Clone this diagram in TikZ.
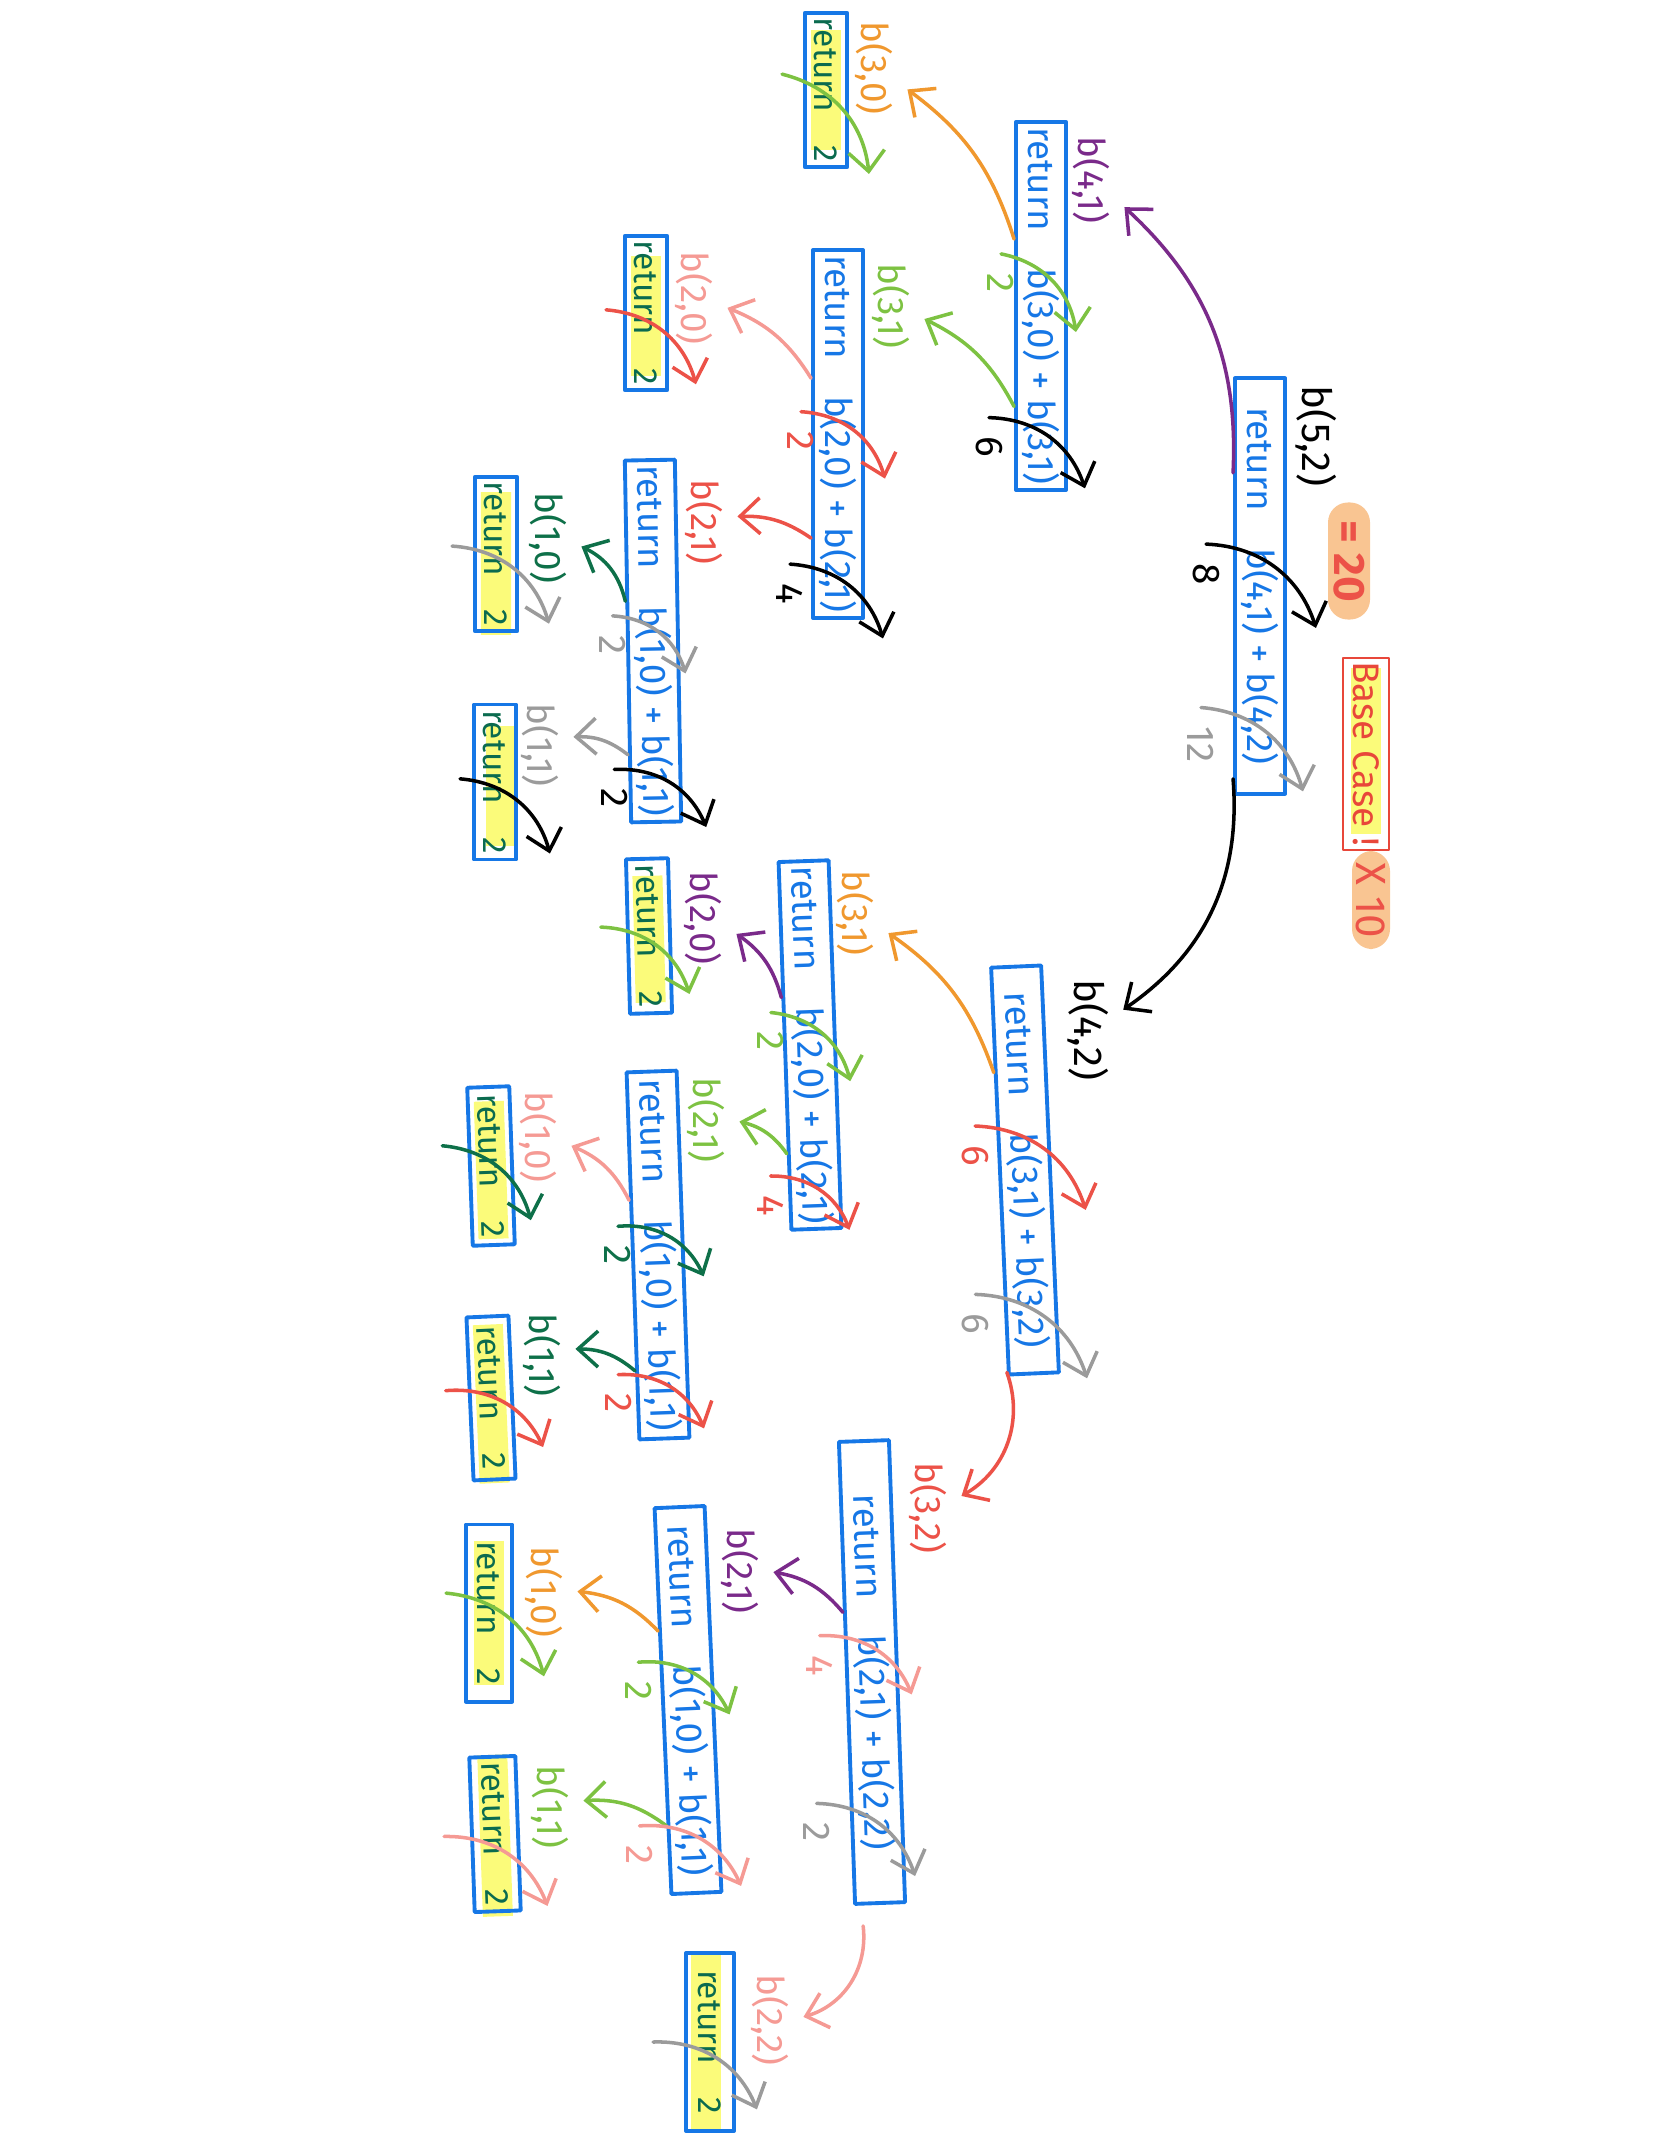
\documentclass[tikz,border=0pt]{standalone}
\usepackage{fontspec}
\setmainfont{Fira Sans}
\usetikzlibrary{arrows.meta, calc, backgrounds}
\definecolor{cblue}{HTML}{1677E6}
\definecolor{cteal}{HTML}{0B6B4F}
\definecolor{corange}{HTML}{F0982E}
\definecolor{cgreen}{HTML}{7DC242}
\definecolor{cdkgreen}{HTML}{0E7049}
\definecolor{cred}{HTML}{EC5248}
\definecolor{cpink}{HTML}{F59A94}
\definecolor{cpurple}{HTML}{7A2A8A}
\definecolor{cgray}{HTML}{9B9B9B}
\definecolor{cyellow}{HTML}{FBFB7A}
\definecolor{cpeach}{HTML}{F9C592}
\definecolor{cbase}{HTML}{E8473A}

\begin{document}
\begin{tikzpicture}[x=0.01cm, y=-0.01cm, font=\fontsize{10.5}{12}\selectfont, line cap=round, line join=round,
    callbox/.style={draw=cblue, line width=1.1pt, text=cblue, rotate=-90, minimum height=0.5cm, inner sep=1.5pt},
    retbox/.style={draw=cblue, line width=1.1pt, text=cteal, rotate=-90, minimum height=0.42cm, inner sep=1.5pt, font=\fontsize{9.5}{11}\selectfont},
    tag/.style={rotate=-90, inner sep=4pt},
    pill/.style={rotate=-90, fill=cpeach, rounded corners=2mm, text=cred, inner sep=1pt},
    num/.style={pos=0, anchor=west, rotate=-90, inner sep=5pt, font=\fontsize{11}{12}\selectfont},
    call/.style={-{Straight Barb[length=2mm, width=3.6mm]}, line width=1pt},
    back/.style={-{Straight Barb[length=2mm, width=3.6mm]}, line width=1pt},
    hl/.style={line width=0.3cm, draw=cyellow}]
    \useasboundingbox (0,0) rectangle (1668,2154);

    \node[callbox, minimum width=4.15cm] (b52) at (1260,586) {return\quad b(4,1) + b(4,2)};
    \node[callbox, minimum width=3.68cm] (b41) at (1041,306) {return\quad b(3,0) + b(3,1)};
    \node[callbox, minimum width=3.53cm] (b31a) at (838,434) {return\quad b(2,0) + b(2,1)};
    \node[callbox, minimum width=3.43cm, rotate=1] (b21a) at (653,641) {return\quad b(1,0) + b(1,1)};
    \node[callbox, minimum width=4.07cm, rotate=2.5] (b42) at (1025,1170) {return\quad b(3,1) + b(3,2)};
    \node[callbox, minimum width=3.63cm, rotate=2] (b31b) at (810,1045) {return\quad b(2,0) + b(2,1)};
    \node[callbox, minimum width=3.67cm, rotate=2] (b21b) at (658,1255) {return\quad b(1,0) + b(1,1)};
    \node[callbox, minimum width=4.62cm, rotate=2] (b32) at (872,1672) {return\quad b(2,1) + b(2,2)};
    \node[callbox, minimum width=3.86cm, rotate=2.5] (b21c) at (688,1700) {return\quad b(1,0) + b(1,1)};

    \node[retbox, minimum width=1.52cm] (r30) at (826,90) {return\quad 2};
    \node[retbox, minimum width=1.54cm] (r20a) at (646,313) {return\quad 2};
    \node[retbox, minimum width=1.43cm] (r10a) at (496,554) {return\quad 2};
    \node[retbox, minimum width=1.55cm] (r11a) at (495,782) {return\quad 2};
    \node[retbox, minimum width=1.42cm, rotate=1.5] (r20b) at (649,936) {return\quad 2};
    \node[retbox, minimum width=1.58cm, rotate=2] (r10b) at (491,1166) {return\quad 2};
    \node[retbox, minimum width=1.63cm, rotate=2.5] (r11b) at (491,1398) {return\quad 2};
    \node[retbox, minimum width=1.77cm, minimum height=0.46cm] (r10c) at (489,1613) {return\quad 2};
    \node[retbox, minimum width=1.52cm, minimum height=0.46cm, rotate=2] (r11c) at (495,1834) {return\quad 2};
    \node[retbox, minimum width=1.78cm, minimum height=0.48cm] (r22) at (710,2042) {return\quad 2};

    \node[tag, font=\fontsize{11.5}{13}\selectfont] (l52) at (1316,436) {b(5,2)};
    \node[tag, text=cpurple] (l41) at (1091,180) {b(4,1)};
    \node[tag, text=corange] (l30) at (874,68) {b(3,0)};
    \node[tag, text=cgreen] (l31a) at (891,306) {b(3,1)};
    \node[tag, text=cpink] (l20a) at (694,298) {b(2,0)};
    \node[tag, text=cred] (l21a) at (704,522) {b(2,1)};
    \node[tag, text=cdkgreen] (l10a) at (548,538) {b(1,0)};
    \node[tag, text=cgray] (l11a) at (540,745) {b(1,1)};
    \node[tag, font=\fontsize{11.5}{13}\selectfont] (l42) at (1088,1030) {b(4,2)};
    \node[tag, text=corange] (l31b) at (855,913) {b(3,1)};
    \node[tag, text=cpurple] (l20b) at (703,918) {b(2,0)};
    \node[tag, text=cgreen] (l21b) at (706,1120) {b(2,1)};
    \node[tag, text=cpink] (l10b) at (538,1137) {b(1,0)};
    \node[tag, text=cdkgreen] (l11b) at (542,1355) {b(1,1)};
    \node[tag, text=cred] (l32) at (928,1508) {b(3,2)};
    \node[tag, text=cpurple] (l21c) at (740,1571) {b(2,1)};
    \node[tag, text=corange] (l10c) at (544,1592) {b(1,0)};
    \node[tag, text=cgreen] (l11c) at (550,1807) {b(1,1)};
    \node[tag, text=cpink] (l22) at (770,2020) {b(2,2)};

    \node[pill, minimum width=1.17cm, minimum height=0.42cm, font=\bfseries\fontsize{12.5}{14}\selectfont] (total) at (1349,561) {= 20};
    \node[draw=cbase, line width=0.7pt, rotate=-90, text=cbase, minimum width=1.87cm, minimum height=0.46cm, inner sep=1pt] (base) at (1366,754) {Base Case !};
    \node[pill, minimum width=0.98cm, minimum height=0.38cm, font=\fontsize{12}{14}\selectfont] (times) at (1371,900) {X 10};

    \begin{scope}[on background layer]
        \draw[hl] ($(r30.west)!.12!(r30.east)$) -- ($(r30.west)!.88!(r30.east)$);
        \draw[hl] ($(r20a.west)!.14!(r20a.east)$) -- ($(r20a.west)!.9!(r20a.east)$);
        \draw[hl] ($(r10a.west)!.11!(r10a.east)$) -- ($(r10a.west)!1.01!(r10a.east)$);
        \draw[hl] ($(r11a.west)!.15!(r11a.east)+(6,0)$) -- ($(r11a.west)!.9!(r11a.east)+(6,0)$);
        \draw[hl] ($(r20b.west)!.12!(r20b.east)$) -- ($(r20b.west)!.92!(r20b.east)$);
        \draw[hl] ($(r10b.west)!.1!(r10b.east)$) -- ($(r10b.west)!.95!(r10b.east)$);
        \draw[hl] ($(r11b.west)!.06!(r11b.east)$) -- ($(r11b.west)!1.01!(r11b.east)$);
        \draw[hl] ($(r10c.west)!.1!(r10c.east)$) -- ($(r10c.west)!.9!(r10c.east)$);
        \draw[hl] ($(r11c.west)!0!(r11c.east)$) -- ($(r11c.west)!1.02!(r11c.east)$);
        \draw[hl] ($(r22.west)!.01!(r22.east)+(-4,0)$) -- ($(r22.west)!.99!(r22.east)+(-4,0)$);
        \draw[hl] ($(base.west)!.06!(base.east)$) -- ($(base.west)!.91!(base.east)$);
    \end{scope}

    \draw[call, cpurple] ($(b52.south west)!.23!(b52.south east)$) to[bend right=25] (l41);
    \draw[call, black] ($(b52.south west)!.96!(b52.south east)$) to[bend left=30] (l42);
    \draw[call, corange] ($(b41.south west)!.32!(b41.south east)$) to[bend right=18] (l30);
    \draw[call, cgreen] ($(b41.south west)!.77!(b41.south east)$) to[bend right=18] (l31a);
    \draw[call, cpink] ($(b31a.south west)!.35!(b31a.south east)$) to[bend right=18] (l20a);
    \draw[call, cred] ($(b31a.south west)!.78!(b31a.south east)$) to[bend right=18] (l21a);
    \draw[call, cdkgreen] ($(b21a.south west)!.39!(b21a.south east)$) to[bend right=25] (l10a);
    \draw[call, cgray] ($(b21a.south west)!.81!(b21a.south east)$) to[bend right=20] (l11a);
    \draw[call, corange] ($(b42.south west)!.26!(b42.south east)$) to[bend right=18] (l31b);
    \draw[call, cred] ($(b42.south west)!.99!(b42.south east)$) to[bend left=40] (l32);
    \draw[call, cpurple] ($(b31b.south west)!.37!(b31b.south east)$) to[bend right=20] (l20b);
    \draw[call, cgreen] ($(b31b.south west)!.79!(b31b.south east)$) to[bend right=20] (l21b);
    \draw[call, cpink] ($(b21b.south west)!.35!(b21b.south east)$) to[bend right=20] (l10b);
    \draw[call, cdkgreen] ($(b21b.south west)!.81!(b21b.south east)$) to[bend right=20] (l11b);
    \draw[call, cpurple] ($(b32.south west)!.37!(b32.south east)$) to[bend right=20] (l21c);
    \draw[call, cpink] ($(b32.east)+(-17,21)$) to[bend left=40] (l22);
    \draw[call, corange] ($(b21c.south west)!.32!(b21c.south east)$) to[bend right=20] (l10c);
    \draw[call, cgreen] ($(b21c.south west)!.82!(b21c.south east)$) to[bend right=20] (l11c);

    \draw[back, black] ($(b52.south west)!.40!(b52.south east)+(-27,0)$) to[bend left=35] node[num] {8} ($(b52.north west)!.60!(b52.north east)+(29,0)$);
    \draw[back, cgray] ($(b52.south west)!.79!(b52.south east)+(-32,0)$) to[bend left=35] node[num] {12} ($(b52.north west)!.99!(b52.north east)+(16,0)$);
    \draw[back, cgreen] ($(b41.south west)!.36!(b41.south east)+(-13,0)$) to[bend left=35] node[num] {2} ($(b41.north west)!.57!(b41.north east)+(8,0)$);
    \draw[back, black] ($(b41.south west)!.80!(b41.south east)+(-25,0)$) to[bend left=35] node[num] {6} ($(b41.north west)!.99!(b41.north east)+(17,0)$);
    \draw[back, cred] ($(b31a.south west)!.44!(b31a.south east)+(-10,0)$) to[bend left=35] node[num] {2} ($(b31a.north west)!.62!(b31a.north east)+(20,0)$);
    \draw[back, black] ($(b31a.south west)!.85!(b31a.south east)+(-21,0)$) to[bend left=35] node[num] {4} ($(b31a.north west)!1.05!(b31a.north east)+(18,0)$);
    \draw[back, cgray] ($(b21a.south west)!.43!(b21a.south east)+(-13,0)$) to[bend left=35] node[num] {2} ($(b21a.north west)!.59!(b21a.north east)+(5,0)$);
    \draw[back, black] ($(b21a.south west)!.85!(b21a.south east)+(-14,0)$) to[bend left=35] node[num] {2} ($(b21a.north west)!1.01!(b21a.north east)+(23,0)$);
    \draw[back, cred] ($(b42.south west)!.39!(b42.south east)+(-21,0)$) to[bend left=35] node[num] {6} ($(b42.north west)!.60!(b42.north east)+(32,0)$);
    \draw[back, cgray] ($(b42.south west)!.80!(b42.south east)+(-28,0)$) to[bend left=35] node[num] {6} ($(b42.north west)!1.01!(b42.north east)+(26,0)$);
    \draw[back, cgreen] ($(b31b.south west)!.41!(b31b.south east)+(-11,0)$) to[bend left=35] node[num] {2} ($(b31b.north west)!.60!(b31b.north east)+(12,0)$);
    \draw[back, cred] ($(b31b.south west)!.85!(b31b.south east)+(-17,0)$) to[bend left=35] node[num] {4} ($(b31b.north west)!1.0!(b31b.north east)+(6,0)$);
    \draw[back, cdkgreen] ($(b21b.south west)!.42!(b21b.south east)+(-12,0)$) to[bend left=35] node[num] {2} ($(b21b.north west)!.56!(b21b.north east)+(18,0)$);
    \draw[back, cred] ($(b21b.south west)!.82!(b21b.south east)+(-17,0)$) to[bend left=35] node[num] {2} ($(b21b.north west)!.97!(b21b.north east)+(13,0)$);
    \draw[back, cpink] ($(b32.south west)!.42!(b32.south east)+(-24,0)$) to[bend left=35] node[num] {4} ($(b32.north west)!.55!(b32.north east)+(12,0)$);
    \draw[back, cgray] ($(b32.south west)!.78!(b32.south east)+(-33,0)$) to[bend left=35] node[num] {2} ($(b32.north west)!.94!(b32.north east)+(9,0)$);
    \draw[back, cgreen] ($(b21c.south west)!.40!(b21c.south east)+(-21,0)$) to[bend left=35] node[num] {2} ($(b21c.north west)!.54!(b21c.north east)+(14,0)$);
    \draw[back, cpink] ($(b21c.south west)!.82!(b21c.south east)+(-27,0)$) to[bend left=35] node[num] {2} ($(b21c.north west)!.98!(b21c.north east)+(18,0)$);

    \draw[back, cgreen] ($(r30.south west)!.40!(r30.south east)+(-21,0)$) to[bend left=35] ($(r30.north west)!1.03!(r30.north east)+(20,0)$);
    \draw[back, cred] ($(r20a.south west)!.48!(r20a.south east)+(-17,0)$) to[bend left=35] ($(r20a.north west)!.95!(r20a.north east)+(27,0)$);
    \draw[back, cgray] ($(r10a.south west)!.45!(r10a.south east)+(-21,0)$) to[bend left=35] ($(r10a.north west)!.94!(r10a.north east)+(30,0)$);
    \draw[back, black] ($(r11a.south west)!.48!(r11a.south east)+(-12,0)$) to[bend left=35] ($(r11a.north west)!.95!(r11a.north east)+(32,0)$);
    \draw[back, cgreen] ($(r20b.south west)!.44!(r20b.south east)+(-25,0)$) to[bend left=35] ($(r20b.north west)!.87!(r20b.north east)+(16,0)$);
    \draw[back, cdkgreen] ($(r10b.south west)!.37!(r10b.south east)+(-25,0)$) to[bend left=35] ($(r10b.north west)!.84!(r10b.north east)+(15,0)$);
    \draw[back, cred] ($(r11b.south west)!.45!(r11b.south east)+(-22,0)$) to[bend left=35] ($(r11b.north west)!.80!(r11b.north east)+(27,0)$);
    \draw[back, cgreen] ($(r10c.south west)!.39!(r10c.south east)+(-18,0)$) to[bend left=35] ($(r10c.north west)!.85!(r10c.north east)+(30,0)$);
    \draw[back, cpink] ($(r11c.south west)!.51!(r11c.south east)+(-26,0)$) to[bend left=35] ($(r11c.north west)!.96!(r11c.north east)+(25,0)$);
    \draw[back, cgray] ($(r22.south west)!.50!(r22.south east)+(-31,0)$) to[bend left=35] ($(r22.north west)!.87!(r22.north east)+(21,0)$);
\end{tikzpicture}
\end{document}
